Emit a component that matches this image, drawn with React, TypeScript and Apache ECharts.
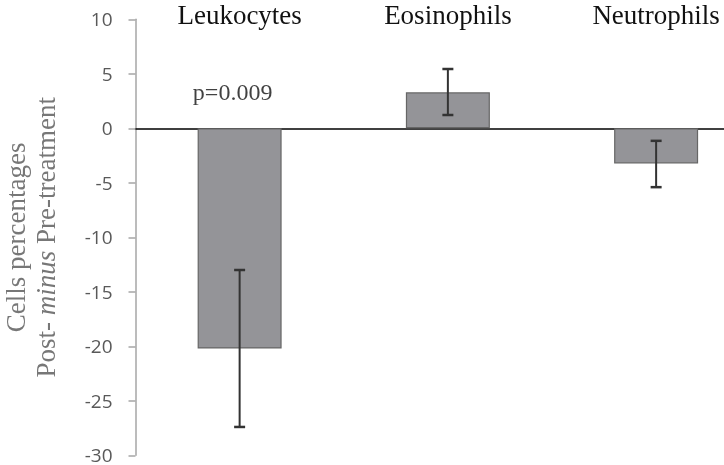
import React, { useEffect, useRef } from "react";
import * as echarts from "echarts";

const categories = ["Leukocytes", "Eosinophils", "Neutrophils"];
const means = [-20.2, 3.3, -3.22];
const errLow = [-27.4, 1.22, -5.4];
const errHigh = [-13.0, 5.44, -1.15];
const yTicks = { min: -30, max: 10, interval: 5 };
const annotations = [{ category: "Leukocytes", value: 3.35, text: "p=0.009" }];

const serif = "'Liberation Serif', 'Times New Roman', serif";

export default function App() {
  const ref = useRef<HTMLDivElement>(null);
  useEffect(() => {
    if (!ref.current) return;
    const chart = echarts.init(ref.current, undefined, { renderer: "svg" });
    const errData = categories.map((c, i) => [i, errLow[i], errHigh[i]]);
    chart.setOption({
      animation: false,
      grid: {
        left: 135.5,
        top: 19.3,
        height: 436,
        width: 624.75,
        containLabel: false,
        outerBoundsMode: "none",
      },
      xAxis: [
        {
          type: "category",
          data: categories,
          position: "top",
          axisLine: { show: false, onZero: false },
          axisTick: { show: false },
          axisLabel: {
            margin: 4,
            verticalAlign: "middle",
            fontFamily: serif,
            fontSize: 27,
            color: "#111",
          },
        },
        {
          type: "category",
          data: categories,
          position: "bottom",
          axisLine: { show: true, onZero: true, lineStyle: { color: "#000", width: 1.5 } },
          axisTick: { show: false },
          axisLabel: { show: false },
        },
      ],
      yAxis: {
        type: "value",
        min: yTicks.min,
        max: yTicks.max,
        interval: yTicks.interval,
        splitLine: { show: false },
        axisLine: { show: true, lineStyle: { color: "#a6a6a6", width: 1.5 } },
        axisTick: { show: true, length: 7, lineStyle: { color: "#a6a6a6", width: 1.5 } },
        axisLabel: {
          margin: 23,
          fontFamily: "'Open Sans', sans-serif",
          fontSize: 19,
          lineHeight: 18,
          color: "#595959",
        },
        name: "{a|Cells percentages}\n{a|Post- }{i|minus}{a| Pre-treatment}",
        nameLocation: "middle",
        nameRotate: 90,
        nameGap: 75,
        nameTextStyle: {
          rich: {
            a: { fontFamily: serif, fontSize: 27, color: "#777", lineHeight: 30 },
            i: { fontFamily: serif, fontSize: 27, color: "#777", fontStyle: "italic", lineHeight: 30 },
          },
        },
      },
      series: [
        {
          type: "bar",
          xAxisIndex: 0,
          data: means,
          barWidth: 84,
          itemStyle: { color: "#949498", borderColor: "#666", borderWidth: 1.2 },
          z: 2,
        },
        {
          type: "custom",
          xAxisIndex: 0,
          data: errData,
          z: 5,
          renderItem: (params: any, api: any) => {
            const x = api.value(0);
            const lo = api.coord([x, api.value(1)]);
            const hi = api.coord([x, api.value(2)]);
            const cap = 5.5;
            const style = { stroke: "#333", lineWidth: 2 };
            return {
              type: "group",
              children: [
                { type: "line", shape: { x1: lo[0], y1: lo[1], x2: hi[0], y2: hi[1] }, style },
                { type: "line", shape: { x1: lo[0] - cap, y1: lo[1], x2: lo[0] + cap, y2: lo[1] }, style: { stroke: "#333", lineWidth: 2.5 } },
                { type: "line", shape: { x1: hi[0] - cap, y1: hi[1], x2: hi[0] + cap, y2: hi[1] }, style: { stroke: "#333", lineWidth: 2.5 } },
              ],
            };
          },
        },
        {
          type: "scatter",
          xAxisIndex: 0,
          data: annotations.map((a) => [a.category, a.value]),
          symbolSize: 0,
          label: {
            show: true,
            position: "inside",
            offset: [-7, 0],
            formatter: (p: any) => annotations[p.dataIndex].text,
            fontFamily: serif,
            fontSize: 24,
            color: "#111",
          },
        },
      ],
    });
    return () => chart.dispose();
  }, []);
  return (
    <div
      ref={ref}
      style={{ position: "fixed", left: 0, top: 0, width: 724, height: 465 }}
    />
  );
}
